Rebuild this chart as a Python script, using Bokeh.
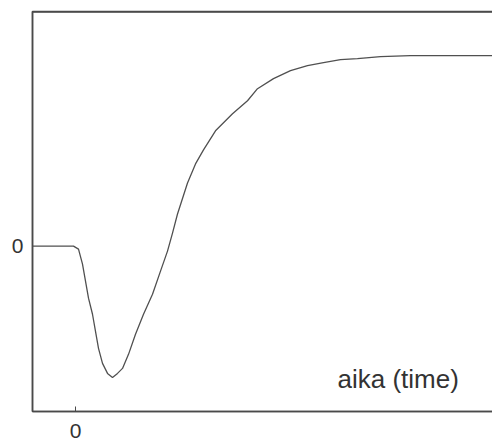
from bokeh.plotting import figure
from bokeh.models import Range1d, LinearAxis, FixedTicker, Span
from bokeh.core.properties import value
from bokeh.embed import file_html
from bokeh.resources import INLINE

# Data (time, response)
time = [-4.3, -0.2, 0.3, 0.7, 1.0, 1.3, 1.7, 2.0, 2.3, 2.7, 3.2, 3.7, 4.2, 4.7,
        5.3, 6.0, 6.8, 7.7, 8.5, 9.2, 9.7, 10.2, 11.2, 12.0, 12.8, 14.0, 15.7,
        17.2, 18.2, 19.8, 21.5, 23.2, 24.8, 26.5, 28.2, 30.5, 33.5, 37.5, 42.5]
response = [0.0, 0.0, -0.3, -1.8, -3.5, -5.2, -6.8, -8.5, -10.2, -11.7, -12.7,
            -13.1, -12.7, -12.2, -10.8, -8.8, -6.8, -4.8, -2.5, -0.5, 1.3, 3.2,
            6.3, 8.2, 9.6, 11.5, 13.2, 14.5, 15.7, 16.7, 17.5, 18.0, 18.3, 18.6,
            18.7, 18.9, 19.0, 19.0, 19.0]
x_ticks = [0]
y_ticks = [0]
annotation_text = ["aika (time)"]

LINE = "#4a4a4a"

p = figure(width=500, height=440, output_backend="svg", toolbar_location=None,
           x_range=Range1d(-4.3, 42.5), y_range=Range1d(-16.5, 23.4),
           x_axis_location=None, y_axis_location=None,
           min_border_left=32, min_border_right=0, min_border_top=11,
           min_border_bottom=10)
p.outline_line_color = LINE
p.outline_line_width = 1.5
p.grid.visible = False
p.background_fill_color = "white"
p.border_fill_color = "white"

font_size = "21px"

left = LinearAxis(ticker=FixedTicker(ticks=y_ticks))
left.major_tick_in = 0
left.major_tick_out = 0
left.minor_tick_line_color = None
left.axis_line_color = LINE
left.axis_line_width = 1.5
left.major_label_standoff = 9
left.major_label_text_font = "Liberation Sans"
left.major_label_text_font_size = font_size
left.major_label_text_color = "#333333"
p.add_layout(left, "left")

bottom = LinearAxis(ticker=FixedTicker(ticks=x_ticks))
bottom.major_tick_in = 5
bottom.major_tick_out = 0
bottom.major_tick_line_color = LINE
bottom.minor_tick_line_color = None
bottom.axis_line_color = LINE
bottom.axis_line_width = 1.5
bottom.major_label_standoff = 12
bottom.major_label_text_font = "Liberation Sans"
bottom.major_label_text_font_size = font_size
bottom.major_label_text_color = "#333333"
p.add_layout(bottom, "below")

# top border of the frame
p.add_layout(Span(location=23.35, dimension="width", line_color=LINE,
                  line_width=1.5, level="overlay"))

p.line(time, response, line_color="#505050", line_width=1.3)

p.text(x=[26.2], y=[-13.3], text=annotation_text, text_font=value("Liberation Sans"),
       text_font_size="26px", text_color="#333333", text_baseline="alphabetic",
       text_align="left")

open("out.html", "w").write(file_html(p, INLINE))
